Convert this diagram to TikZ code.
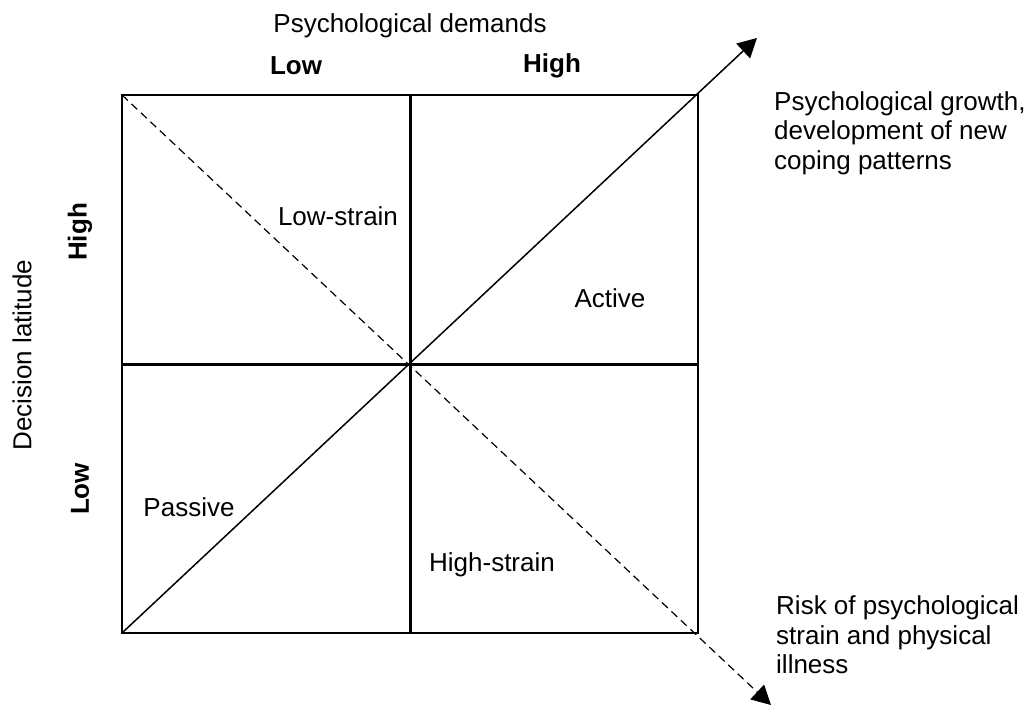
\documentclass[tikz,border=0pt]{standalone}
\usepackage{fontspec}
\setmainfont{Liberation Sans}
\usetikzlibrary{arrows.meta}
\begin{document}
\begin{tikzpicture}[x=1pt,y=-1pt,
  every node/.style={inner sep=0pt, font=\fontsize{26}{29.5}\selectfont},
  axislbl/.style={font=\fontsize{26}{29.5}\selectfont\bfseries},
  outer/.style={line width=1.5pt},
  divider/.style={line width=3pt},
  diag/.style={line width=1.5pt, -{Triangle[length=19pt,width=20pt]}},
  ddiag/.style={line width=1.2pt, dash pattern=on 8pt off 5pt, -{Triangle[length=19pt,width=20pt]}},
  note/.style={align=left, anchor=west}]
\useasboundingbox (0,0) rectangle (1029,706);
% quadrant grid
\coordinate (tl) at (122,95);
\coordinate (br) at (698,633);
\coordinate (bl) at (122,633);
\coordinate (tr) at (698,95);
\coordinate (c) at (410,364);
\coordinate (tm) at (410,95);
\coordinate (bm) at (410,633);
\coordinate (lm) at (122,364);
\coordinate (rm) at (698,364);
\coordinate (growth) at (757,38);
\coordinate (risk) at (771,705);
\draw[outer] (tl) rectangle (br);
\draw[divider] (tm) -- (bm);
\draw[divider] (lm) -- (rm);
% diagonals
\draw[diag] (bl) -- (growth);
\draw[ddiag] (tl) -- (risk);
% axis titles
\node (pd) at (410,26) {Psychological demands};
\node[axislbl] (plow) at (296,66) {Low};
\node[axislbl] (phigh) at (552,66) {High};
\node[rotate=90] (dl) at (22,355) {Decision latitude};
\node[axislbl, rotate=90] (dhigh) at (80,232) {High};
\node[axislbl, rotate=90] (dlow) at (80,489) {Low};
% quadrant labels
\node (ls) at (338,216) {Low-strain};
\node (ac) at (610,298) {Active};
\node (pa) at (189,507) {Passive};
\node (hs) at (492,565) {High-strain};
% outcome notes
\node[note] (ng) at (774,133) {Psychological growth,\\development of new\\coping patterns};
\node[note] (nr) at (776,635) {Risk of psychological\\strain and physical\\illness};
\end{tikzpicture}
\end{document}
